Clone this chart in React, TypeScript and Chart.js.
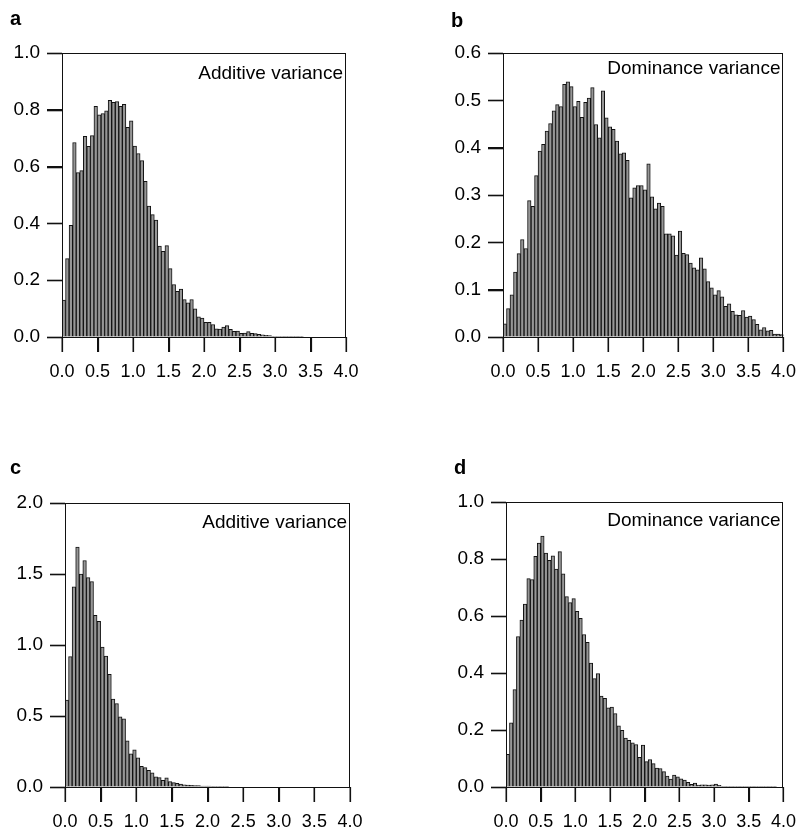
import React, { useEffect, useRef } from "react";
import { Chart, registerables } from "chart.js";

Chart.register(...registerables);

const BIN_WIDTH = 0.05;
const X_TICKS_STEP = 0.5;

const valuesA = [
  0.13, 0.276, 0.393, 0.685, 0.579, 0.586, 0.707, 0.671, 0.709, 0.812,
  0.782, 0.787, 0.796, 0.833, 0.826, 0.829, 0.812, 0.819, 0.738, 0.761,
  0.672, 0.646, 0.621, 0.548, 0.461, 0.431, 0.412, 0.32, 0.302, 0.322,
  0.241, 0.185, 0.161, 0.169, 0.132, 0.12, 0.132, 0.099, 0.071, 0.067,
  0.052, 0.052, 0.044, 0.029, 0.028, 0.035, 0.04, 0.027, 0.02, 0.021,
  0.013, 0.014, 0.019, 0.013, 0.012, 0.009, 0.008, 0.006, 0.005, 0.002,
  0.002, 0.002, 0.001, 0.001, 0.001, 0.001, 0.001, 0.001, 0, 0,
  0, 0, 0, 0, 0, 0, 0, 0, 0, 0,
];

const valuesB = [
  0.028, 0.06, 0.089, 0.137, 0.176, 0.206, 0.187, 0.288, 0.276, 0.341,
  0.393, 0.407, 0.435, 0.451, 0.478, 0.491, 0.487, 0.534, 0.539, 0.529,
  0.487, 0.498, 0.464, 0.496, 0.505, 0.527, 0.449, 0.421, 0.52, 0.463,
  0.444, 0.439, 0.414, 0.387, 0.389, 0.373, 0.294, 0.315, 0.32, 0.32,
  0.311, 0.366, 0.296, 0.271, 0.283, 0.276, 0.218, 0.218, 0.214, 0.173,
  0.224, 0.177, 0.174, 0.156, 0.146, 0.142, 0.167, 0.144, 0.117, 0.104,
  0.089, 0.098, 0.085, 0.065, 0.07, 0.054, 0.047, 0.046, 0.056, 0.042,
  0.044, 0.037, 0.027, 0.015, 0.02, 0.013, 0.014, 0.006, 0.006, 0.005,
];

const valuesC = [
  0.612, 0.918, 1.41, 1.69, 1.5, 1.595, 1.475, 1.447, 1.209, 1.167,
  0.986, 0.922, 0.793, 0.619, 0.588, 0.494, 0.48, 0.325, 0.233, 0.261,
  0.205, 0.146, 0.136, 0.118, 0.099, 0.071, 0.066, 0.047, 0.064, 0.038,
  0.031, 0.026, 0.021, 0.016, 0.014, 0.012, 0.01, 0.01, 0.007, 0.007,
  0.007, 0.005, 0.003, 0.002, 0.001, 0.001, 0, 0, 0, 0,
  0, 0, 0, 0, 0, 0, 0, 0, 0, 0,
  0, 0, 0, 0, 0, 0, 0, 0, 0, 0,
  0, 0, 0, 0, 0, 0, 0, 0, 0, 0,
];

const valuesD = [
  0.115, 0.225, 0.342, 0.528, 0.586, 0.642, 0.731, 0.728, 0.809, 0.856,
  0.88, 0.821, 0.795, 0.811, 0.765, 0.826, 0.748, 0.668, 0.647, 0.661,
  0.616, 0.592, 0.535, 0.508, 0.435, 0.38, 0.398, 0.319, 0.311, 0.278,
  0.28, 0.258, 0.215, 0.199, 0.172, 0.164, 0.155, 0.149, 0.104, 0.147,
  0.089, 0.096, 0.082, 0.066, 0.065, 0.054, 0.038, 0.028, 0.042, 0.036,
  0.029, 0.024, 0.016, 0.009, 0.014, 0.007, 0.008, 0.008, 0.007, 0.008,
  0.01, 0.006, 0.002, 0.001, 0.001, 0.001, 0.002, 0.001, 0.001, 0.002,
  0.001, 0.001, 0.002, 0.002, 0.001, 0.001, 0.001, 0.001, 0, 0,
];

const FONT = '"Liberation Sans", Arial, Helvetica, sans-serif';
const TICK_LEN = 15;

const panelDecor = {
  id: "panelDecor",
  afterDraw(chart: any, _args: any, opts: any) {
    const { ctx, chartArea } = chart;
    const { left, right, top, bottom } = chartArea;
    const L = Math.round(left);
    const R = Math.round(right);
    const T = Math.round(top);
    const B = Math.round(bottom);
    ctx.save();
    ctx.strokeStyle = "#111";
    ctx.lineWidth = 1;
    ctx.beginPath();
    ctx.moveTo(L, T + 0.5);
    ctx.lineTo(R, T + 0.5);
    ctx.moveTo(R - 0.5, T);
    ctx.lineTo(R - 0.5, B);
    ctx.moveTo(L + 0.5, T);
    ctx.lineTo(L + 0.5, B);
    ctx.moveTo(L, B + 0.5);
    ctx.lineTo(R, B + 0.5);
    ctx.stroke();
    ctx.fillStyle = "#111";
    const xs = chart.scales.x;
    const ys = chart.scales.y;
    xs.ticks.forEach((t: any) => {
      const px = Math.round(xs.getPixelForValue(t.value));
      ctx.fillRect(px - 0.5, B, 1.6, TICK_LEN);
    });
    ys.ticks.forEach((t: any) => {
      const py = Math.round(ys.getPixelForValue(t.value));
      ctx.fillRect(L - TICK_LEN, py - 0.3, TICK_LEN, 1.6);
    });
    ctx.fillStyle = "#000";
    ctx.font = `19px ${FONT}`;
    ctx.textAlign = "right";
    ctx.textBaseline = "alphabetic";
    ctx.fillText(opts.label, right - 3, top + opts.labelOffset);
    ctx.font = `bold 20px ${FONT}`;
    ctx.textAlign = "left";
    ctx.fillText(opts.letter, opts.letterX, opts.letterY);
    ctx.restore();
  },
};

type PanelProps = {
  values: number[];
  yMax: number;
  yStep: number;
  label: string;
  labelOffset: number;
  letter: string;
  letterX: number;
  letterY: number;
  left: number;
  top: number;
  width: number;
  height: number;
  padding: { left: number; right: number; top: number; bottom: number };
};

function Panel(p: PanelProps) {
  const ref = useRef<HTMLCanvasElement | null>(null);
  useEffect(() => {
    if (!ref.current) return;
    const makeGrid = () => ({
      display: true,
      drawOnChartArea: false,
      drawTicks: true,
      tickLength: TICK_LEN,
      color: "#111",
      lineWidth: 1,
      offset: false,
    });
    const chart = new Chart(ref.current, {
      type: "bar",
      data: {
        datasets: [
          {
            data: p.values.map((v, i) => ({ x: (i + 0.5) * BIN_WIDTH, y: v })),
            backgroundColor: "#969696",
            borderColor: "#111",
            borderWidth: 1,
            barPercentage: 1,
            categoryPercentage: 1,
            borderSkipped: "bottom",
          } as any,
        ],
      },
      options: {
        responsive: false,
        animation: false,
        events: [],
        layout: { padding: p.padding },
        plugins: {
          legend: { display: false },
          tooltip: { enabled: false },
          panelDecor: {
            label: p.label,
            labelOffset: p.labelOffset,
            letter: p.letter,
            letterX: p.letterX,
            letterY: p.letterY,
          },
        } as any,
        scales: {
          x: {
            type: "linear",
            min: 0,
            max: 4,
            offset: false,
            afterFit: (s: any) => {
              s.height = 40;
            },
            ticks: {
              stepSize: X_TICKS_STEP,
              autoSkip: false,
              maxRotation: 0,
              callback: (v: any) => Number(v).toFixed(1),
              color: "#000",
              font: { family: FONT, size: 18 },
              padding: 9,
            },
            grid: makeGrid(),
            border: { display: true, color: "#111", width: 1 },
          },
          y: {
            min: 0,
            max: p.yMax,
            afterFit: (s: any) => {
              s.width = 62;
            },
            ticks: {
              stepSize: p.yStep,
              autoSkip: false,
              callback: (v: any) => Number(v).toFixed(1),
              color: "#000",
              font: { family: FONT, size: 19 },
              padding: 7,
            },
            grid: makeGrid(),
            border: { display: true, color: "#111", width: 1 },
          },
        } as any,
      },
      plugins: [panelDecor],
    });
    return () => chart.destroy();
  }, []);
  return (
    <canvas
      ref={ref}
      width={p.width}
      height={p.height}
      style={{
        position: "absolute",
        left: p.left,
        top: p.top,
        width: p.width,
        height: p.height,
        display: "block",
      }}
    />
  );
}

export default function App() {
  return (
    <div
      style={{
        position: "absolute",
        left: 0,
        top: 0,
        width: 805,
        height: 833,
        background: "#fff",
        overflow: "hidden",
      }}
    >
      <Panel
        values={valuesA}
        yMax={1.0}
        yStep={0.2}
        label="Additive variance"
        labelOffset={26}
        letter="a"
        letterX={10}
        letterY={25}
        left={0}
        top={0}
        width={402}
        height={416}
        padding={{ left: 0, right: 56, top: 53, bottom: 39 }}
      />
      <Panel
        values={valuesB}
        yMax={0.6}
        yStep={0.1}
        label="Dominance variance"
        labelOffset={21}
        letter="b"
        letterX={49}
        letterY={27}
        left={402}
        top={0}
        width={403}
        height={416}
        padding={{ left: 39, right: 17, top: 53, bottom: 39 }}
      />
      <Panel
        values={valuesC}
        yMax={2.0}
        yStep={0.5}
        label="Additive variance"
        labelOffset={25}
        letter="c"
        letterX={10}
        letterY={58}
        left={0}
        top={416}
        width={402}
        height={417}
        padding={{ left: 3, right: 52, top: 87, bottom: 6 }}
      />
      <Panel
        values={valuesD}
        yMax={1.0}
        yStep={0.2}
        label="Dominance variance"
        labelOffset={24}
        letter="d"
        letterX={52}
        letterY={58}
        left={402}
        top={416}
        width={403}
        height={417}
        padding={{ left: 42, right: 15, top: 86, bottom: 6 }}
      />
    </div>
  );
}
